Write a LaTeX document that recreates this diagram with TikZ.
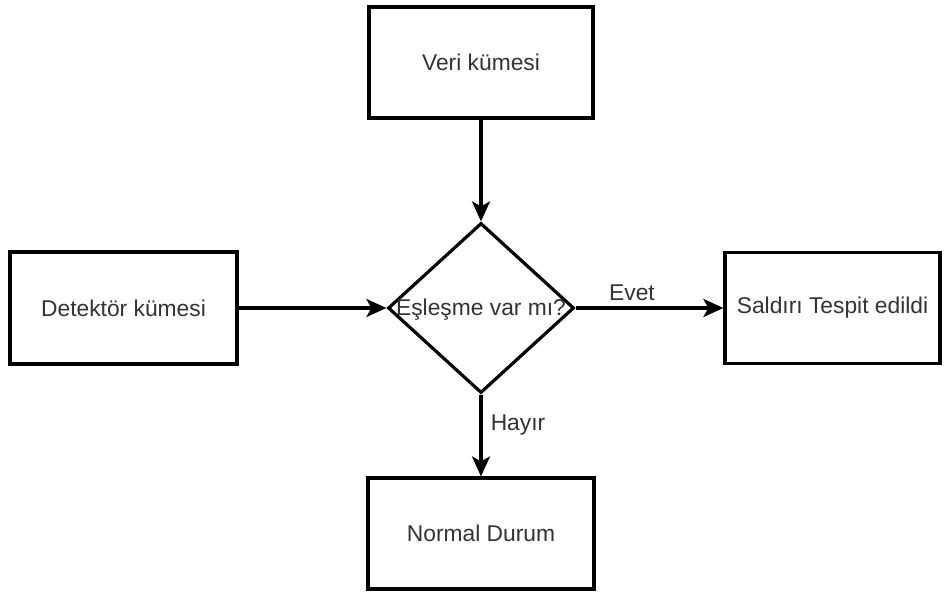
\documentclass[tikz,border=0pt]{standalone}
\usepackage{fontspec}
\newfontfamily\flowfont{Liberation Sans}
\usetikzlibrary{shapes.geometric,arrows.meta}
\definecolor{labelgray}{HTML}{333333}
\begin{document}
\begin{tikzpicture}[x=1pt,y=-1pt,
  every node/.style={font=\flowfont\fontsize{22.8}{27}\selectfont, text=labelgray},
  procbox/.style={draw=black, line width=3.2pt, fill=white, rectangle, inner sep=0pt},
  decision/.style={draw=black, line width=3.2pt, fill=white, diamond, inner sep=0pt, aspect=1},
  flow/.style={draw=black, line width=3.2pt, -{Stealth[length=20pt, width=18pt, inset=5pt]}},
  edgetext/.style={inner sep=0pt}
]
\useasboundingbox (0,0) rectangle (944,592);

% process boxes
\node[procbox, minimum width=224pt, minimum height=111pt] (veri) at (481,62.5) {Veri kümesi};
\node[procbox, minimum width=227pt, minimum height=112pt] (det) at (123.5,308) {Detektör kümesi};
\node[procbox, minimum width=215pt, minimum height=111pt] (sal) at (832.5,308) {Saldırı Tespit edildi};
\node[procbox, minimum width=226pt, minimum height=111pt] (norm) at (481,533.5) {Normal Durum};

% decision
\node[decision, minimum width=186pt, minimum height=170pt] (q) at (481,308) {};
\node[edgetext] (qtext) at (481,310) {Eşleşme var mı?};

% connectors
\draw[flow] (veri.south) -- (q.north);
\draw[flow] (det.east) -- (q.west);
\draw[flow] (q.east) -- (sal.west);
\draw[flow] (q.south) -- (norm.north);

% branch labels
\node[edgetext] (evet) at (632,293) {Evet};
\node[edgetext] (hayir) at (518,425) {Hayır};
\end{tikzpicture}
\end{document}
